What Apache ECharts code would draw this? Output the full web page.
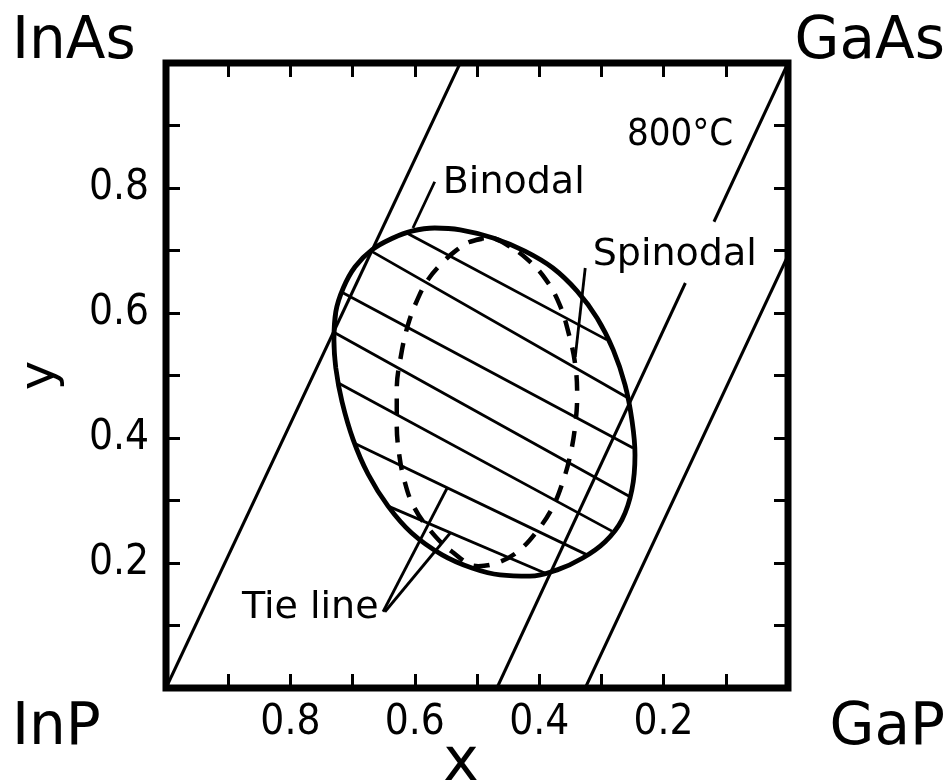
<!DOCTYPE html>
<html>
<head>
<meta charset="utf-8">
<script src="https://cdn.jsdelivr.net/npm/echarts@6/dist/echarts.min.js"></script>
<style>
  html, body { margin: 0; padding: 0; background: #fff; }
  #chart { width: 952px; height: 784px; }
</style>
</head>
<body>
<div id="chart"></div>
<script>
// Miscibility gap of In(x)Ga(1-x)As(y)P(1-y) at 800 °C.
// x runs from 1 (InP/InAs side) to 0 (GaP/GaAs side).

const xTickLabels = ['0.2', '0.4', '0.6', '0.8'];
const yTickLabels = ['0.2', '0.4', '0.6', '0.8'];
const cornerNames = ['InAs', 'GaAs', 'InP', 'GaP'];

// Binodal (solid closed curve), points as [x, y]
const binodal = [
  [0.730, 0.557], [0.727, 0.512], [0.717, 0.458], [0.699, 0.397], [0.675, 0.342],
  [0.643, 0.291], [0.605, 0.248], [0.556, 0.213], [0.508, 0.192], [0.463, 0.181],
  [0.415, 0.179], [0.371, 0.189], [0.330, 0.208], [0.294, 0.234], [0.267, 0.269],
  [0.251, 0.317], [0.246, 0.373], [0.251, 0.429], [0.262, 0.485], [0.281, 0.541],
  [0.307, 0.592], [0.339, 0.635], [0.378, 0.672], [0.423, 0.699], [0.474, 0.720],
  [0.527, 0.733], [0.568, 0.736], [0.605, 0.731], [0.635, 0.720], [0.669, 0.701],
  [0.696, 0.674], [0.715, 0.640], [0.727, 0.602]
];

// Spinodal (dashed closed curve)
const spinodal = [
  [0.479, 0.720], [0.511, 0.714], [0.535, 0.699], [0.559, 0.677], [0.579, 0.653],
  [0.596, 0.621], [0.611, 0.581], [0.622, 0.533], [0.629, 0.477], [0.629, 0.421],
  [0.625, 0.373], [0.617, 0.333], [0.603, 0.293], [0.576, 0.253], [0.540, 0.218],
  [0.498, 0.195], [0.463, 0.202], [0.431, 0.221], [0.402, 0.253], [0.379, 0.288],
  [0.362, 0.330], [0.350, 0.373], [0.342, 0.421], [0.339, 0.469], [0.342, 0.517],
  [0.352, 0.565], [0.367, 0.613], [0.389, 0.653], [0.418, 0.685], [0.447, 0.706]
];

// Tie lines across the gap: [start, end]
const tieLines = [
  [[0.613, 0.728], [0.291, 0.557]],
  [[0.670, 0.699], [0.257, 0.464]],
  [[0.715, 0.632], [0.249, 0.384]],
  [[0.728, 0.568], [0.254, 0.306]],
  [[0.723, 0.488], [0.283, 0.251]],
  [[0.698, 0.392], [0.323, 0.213]],
  [[0.643, 0.291], [0.391, 0.184]]
];

// Constant-lattice lines (the middle one is broken around its label)
const latticeLines = [
  [[1.000, 0.000], [0.527, 1.000]],
  [[0.468, 0.000], [0.165, 0.648]],
  [[0.119, 0.746], [0.000, 1.000]],
  [[0.326, 0.000], [0.000, 0.692]]
];

// Leader lines from the annotations
const leaderLines = [
  [[0.568, 0.810], [0.603, 0.736]],
  [[0.326, 0.672], [0.342, 0.530]],
  [[0.651, 0.122], [0.548, 0.320]],
  [[0.648, 0.122], [0.543, 0.248]]
];

// Annotation texts and their anchor points (left edge, vertical middle)
const noteTexts = ['Binodal', '800°C', 'Spinodal', 'Tie line'];
const noteAnchors = [[0.555, 0.808], [0.259, 0.885], [0.314, 0.692], [0.878, 0.128]];

// repeat neighbours at both ends so the smoothed outline closes without a kink
function closed(pts) {
  return [pts[pts.length - 1]].concat(pts, [pts[0], pts[1]]);
}

const FONT = '"DejaVu Sans", "Noto Sans", sans-serif';
const NUMFONT = '"Liberation Sans Narrow", "DejaVu Sans Condensed", "DejaVu Sans", sans-serif';
const NOTEFONT = '"DejaVu Sans Condensed", "DejaVu Sans", sans-serif';

function tickFormatter(list) {
  return function (v) {
    const s = (+v).toFixed(1);
    return list.indexOf(s) >= 0 ? s : '';
  };
}

const axisBase = {
  type: 'value', min: 0, max: 1, interval: 0.1,
  axisLine: { show: false, onZero: false },
  axisTick: { show: true, inside: true, length: 14, lineStyle: { color: '#000', width: 3 } },
  splitLine: { show: false },
  nameMoveOverlap: false
};

const chart = echarts.init(document.getElementById('chart'));

const option = {
  animation: false,
  backgroundColor: '#fff',
  grid: { show: true, left: 166, right: 164, top: 63, bottom: 96, outerBoundsMode: 'none',
          borderColor: '#000', borderWidth: 7, backgroundColor: 'transparent' },
  xAxis: [
    Object.assign({}, axisBase, {
      inverse: true, position: 'bottom',
      axisLabel: { formatter: tickFormatter(xTickLabels), fontSize: 42, fontFamily: NUMFONT,
                   color: '#000', margin: 14 },
      name: 'x', nameLocation: 'middle', nameGap: 46,
      nameTextStyle: { fontSize: 60, fontFamily: FONT, color: '#000', padding: [0, 32, 0, 0] }
    }),
    Object.assign({}, axisBase, { inverse: true, position: 'top', axisLabel: { show: false } })
  ],
  yAxis: [
    Object.assign({}, axisBase, {
      position: 'left',
      axisLabel: { formatter: tickFormatter(yTickLabels), fontSize: 42, fontFamily: NUMFONT,
                   color: '#000', margin: 17 },
      name: 'y', nameLocation: 'middle', nameGap: 100, nameRotate: 90,
      nameTextStyle: { fontSize: 50, fontFamily: FONT, color: '#000' }
    }),
    Object.assign({}, axisBase, { position: 'right', axisLabel: { show: false } })
  ],
  series: [
    {
      type: 'lines', coordinateSystem: 'cartesian2d', silent: true, z: 3,
      lineStyle: { color: '#000', width: 3, opacity: 1 },
      data: latticeLines.map(c => ({ coords: c }))
    },
    {
      type: 'lines', coordinateSystem: 'cartesian2d', silent: true, z: 3,
      lineStyle: { color: '#000', width: 2.8, opacity: 1 },
      data: tieLines.map(c => ({ coords: c }))
    },
    {
      type: 'lines', coordinateSystem: 'cartesian2d', silent: true, z: 3,
      lineStyle: { color: '#000', width: 2.8, opacity: 1 },
      data: leaderLines.map(c => ({ coords: c }))
    },
    {
      name: 'Binodal', type: 'line', silent: true, z: 4,
      data: closed(binodal), smooth: 0.4, showSymbol: false, symbol: 'none',
      lineStyle: { color: '#000', width: 4.8 }
    },
    {
      name: 'Spinodal', type: 'line', silent: true, z: 4,
      data: closed(spinodal), smooth: 0.4, showSymbol: false, symbol: 'none',
      lineStyle: { color: '#000', width: 4.5, type: [16, 12] }
    },
    {
      type: 'scatter', silent: true, symbolSize: 0, z: 5,
      itemStyle: { opacity: 1 },
      data: noteTexts.map((t, i) => ({
        name: t, value: noteAnchors[i],
        label: { fontFamily: i === 1 ? NOTEFONT : FONT }
      })),
      label: { show: true, position: 'right', distance: 0, formatter: '{b}',
               fontSize: 38, fontFamily: FONT, color: '#000', opacity: 1, textBorderWidth: 0 }
    }
  ],
  graphic: [
    { type: 'text', left: 12, top: 14, style: { text: cornerNames[0], font: '58px ' + FONT, fill: '#000' } },
    { type: 'text', right: 7, top: 14, style: { text: cornerNames[1], font: '58px ' + FONT, fill: '#000' } },
    { type: 'text', left: 12, top: 700, style: { text: cornerNames[2], font: '58px ' + FONT, fill: '#000' } },
    { type: 'text', right: 7, top: 700, style: { text: cornerNames[3], font: '58px ' + FONT, fill: '#000' } }
  ]
};

chart.setOption(option);
</script>
</body>
</html>
